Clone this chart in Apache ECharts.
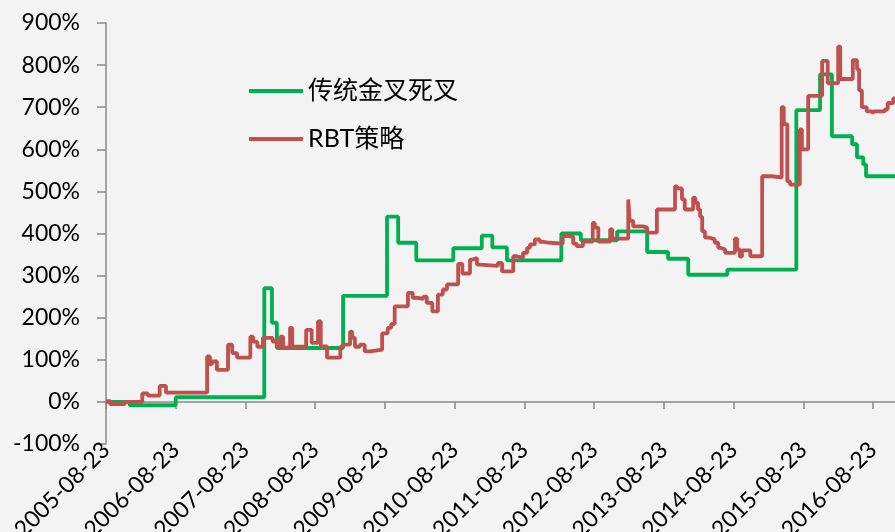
<!DOCTYPE html>
<html>
<head>
<meta charset="utf-8">
<title>传统金叉死叉 vs RBT策略</title>
<script src="https://cdn.jsdelivr.net/npm/echarts@6/dist/echarts.min.js"></script>
<style>
  html, body { margin: 0; padding: 0; background: #f3f3f3; }
  #chart { width: 895px; height: 532px; }
</style>
</head>
<body>
<div id="chart"></div>
<script>
// x = years since 2005-08-23, y = cumulative return (%)
var startYear = 2005;
var yTicks = [-100, 0, 100, 200, 300, 400, 500, 600, 700, 800, 900];

// 传统金叉死叉 (step changes)
var greenT = [0, 0.34, 1.0, 2.27, 2.38, 2.45, 3.40, 4.03, 4.19, 4.45, 4.98, 5.39, 5.54, 5.75,
  6.53, 6.81, 7.33, 7.76, 8.06, 8.35, 8.91, 9.90, 10.24, 10.41, 10.70, 10.77, 10.86, 10.90, 11.315];
var greenV = [0, -8, 11, 270, 188, 128, 252, 440, 378, 336, 365, 395, 367, 336,
  400, 384, 405, 356, 340, 302, 314, 693, 778, 631, 612, 581, 564, 536, 536];

// RBT策略
var redT = [0, 0.06, 0.27, 0.52, 0.60, 0.77, 0.86, 1.45, 1.49, 1.52, 1.59, 1.75, 1.81, 1.88,
  2.07, 2.11, 2.17, 2.25, 2.39, 2.45, 2.50, 2.54, 2.64, 2.67, 2.87, 2.95, 3.04, 3.08, 3.17,
  3.36, 3.40, 3.50, 3.53, 3.57, 3.64, 3.71, 3.79, 3.96, 4.04, 4.09, 4.14, 4.33, 4.40, 4.46,
  4.55, 4.60, 4.68, 4.76, 4.83, 4.89, 5.05, 5.11, 5.22, 5.26, 5.32, 5.36, 5.62, 5.68, 5.84,
  5.89, 5.98, 6.04, 6.08, 6.15, 6.22, 6.27, 6.37, 6.55, 6.63, 6.70, 6.75, 6.84, 6.98, 7.01,
  7.06, 7.23, 7.26, 7.49, 7.51, 7.56, 7.70, 7.76, 7.90, 8.16, 8.19, 8.26, 8.30, 8.42, 8.45,
  8.49, 8.52, 8.55, 8.59, 8.66, 8.73, 8.78, 8.81, 8.88, 9.02, 9.05, 9.09, 9.12, 9.24, 9.41,
  9.55, 9.69, 9.72, 9.77, 9.81, 9.95, 9.98, 10.07, 10.27, 10.35, 10.50, 10.53, 10.71, 10.77,
  10.80, 10.84, 10.91, 10.99, 11.01, 11.17, 11.21, 11.29, 11.315];
var redV = [2, -5, 0, 20, 15, 38, 22, 108, 90, 96, 76, 136, 116, 105,
  155, 143, 131, 152, 143, 131, 155, 129, 176, 131, 171, 140, 191, 132, 105,
  131, 136, 167, 152, 131, 136, 120, 124, 163, 176, 185, 227, 259, 247, 245,
  250, 235, 215, 255, 267, 279, 328, 305, 338, 342, 326, 323, 330, 310, 346,
  342, 354, 366, 374, 386, 380, 378, 376, 394, 392, 376, 370, 381, 425, 414,
  381, 410, 388, 481, 430, 417, 414, 402, 457, 512, 507, 481, 457, 485, 473,
  457, 440, 405, 390, 386, 378, 366, 362, 354, 388, 362, 345, 360, 346, 536,
  533, 700, 660, 524, 516, 647, 600, 727, 810, 757, 844, 767, 812, 790,
  740, 700, 690, 685, 690, 695, 710, 721, 721];

function pairs(t, v) {
  return t.map(function (x, i) { return [x, v[i]]; });
}

var font = 'Lato, "Noto Sans CJK SC", sans-serif';
var axisColor = '#8a8a8a';

var chart = echarts.init(document.getElementById('chart'));
chart.setOption({
  animation: false,
  backgroundColor: '#f3f3f3',
  grid: { left: 106, right: 0, top: 23, bottom: 88, outerBoundsMode: 'none' },
  legend: {
    orient: 'vertical',
    left: 244,
    top: 73,
    icon: 'rect',
    itemWidth: 54,
    itemHeight: 4,
    itemGap: 22,
    textStyle: { fontFamily: font, fontSize: 25, lineHeight: 26, color: '#000' },
    data: ['传统金叉死叉', 'RBT策略']
  },
  xAxis: {
    type: 'value',
    min: 0,
    max: 11.315,
    interval: 1,
    splitLine: { show: false },
    axisLine: { show: true, onZero: true, lineStyle: { color: axisColor, width: 1.5 } },
    axisTick: { show: true, length: 7, lineStyle: { color: axisColor, width: 1.5 } },
    axisLabel: {
      rotate: 45,
      margin: 2,
      fontFamily: font,
      fontSize: 23,
      color: '#000',
      showMaxLabel: false,
      formatter: function (v) {
        if (Math.abs(v - Math.round(v)) > 1e-6) return '';
        return (startYear + Math.round(v)) + '-08-23';
      }
    }
  },
  yAxis: {
    type: 'value',
    min: yTicks[0],
    max: yTicks[yTicks.length - 1],
    interval: 100,
    splitLine: { show: false },
    axisLine: { show: true, lineStyle: { color: axisColor, width: 1.5 } },
    axisTick: { show: true, length: 9, lineStyle: { color: axisColor, width: 1.5 } },
    axisLabel: {
      margin: 26,
      fontFamily: font,
      fontSize: 23,
      color: '#000',
      formatter: '{value}%'
    }
  },
  series: [
    {
      name: '传统金叉死叉',
      type: 'line',
      step: 'end',
      symbol: 'none',
      data: pairs(greenT, greenV),
      itemStyle: { color: '#00b050' },
      lineStyle: { color: '#00b050', width: 3.8 }
    },
    {
      name: 'RBT策略',
      type: 'line',
      step: 'end',
      symbol: 'none',
      data: pairs(redT, redV),
      itemStyle: { color: '#c0504d' },
      lineStyle: { color: '#c0504d', width: 3.8 }
    }
  ]
});
</script>
</body>
</html>
